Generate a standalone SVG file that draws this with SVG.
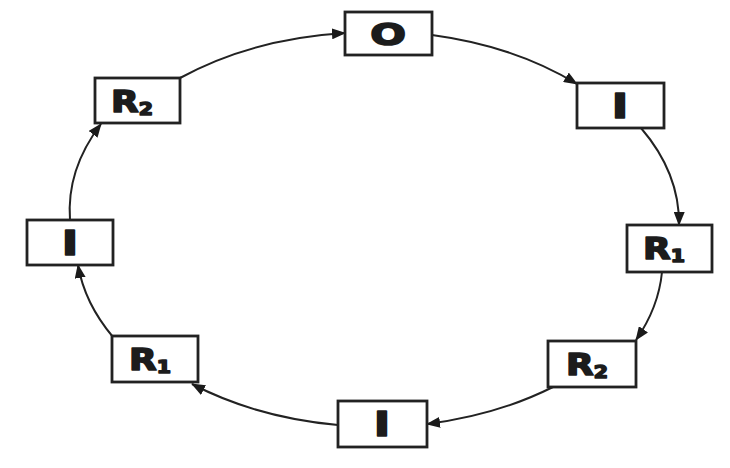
<svg xmlns="http://www.w3.org/2000/svg" width="730" height="468" viewBox="0 0 730 468">
<defs>
<marker id="ah" viewBox="0 0 14 11" refX="13" refY="5.5" markerWidth="14" markerHeight="11" markerUnits="userSpaceOnUse" orient="auto">
<path d="M0,0 L14,5.5 L0,11 Z" fill="#1a1a1a"/>
</marker>
</defs>
<style>
.box{fill:#fff;stroke:#222;stroke-width:2.8}
.lbl{font-family:"DejaVu Sans",sans-serif;font-weight:bold;font-size:30px;fill:#1c1c1c;stroke:#1c1c1c;stroke-width:1.6;stroke-linejoin:round}
.big{font-size:34px}
.sub{font-size:17px}
.c{fill:none;stroke:#222;stroke-width:2;marker-end:url(#ah)}
</style>
<rect width="730" height="468" fill="#fff"/>
<g id="connectors">
<path class="c" d="M432,35 A300,195 0 0 1 577,84"/>
<path class="c" d="M641,128 A300,195 0 0 1 679,225"/>
<path class="c" d="M662,272 A300,195 0 0 1 636,340"/>
<path class="c" d="M553,387 A300,195 0 0 1 427,424"/>
<path class="c" d="M338,425 A300,195 0 0 1 192,384"/>
<path class="c" d="M113,337 A300,195 0 0 1 78,265"/>
<path class="c" d="M70,220 A300,195 0 0 1 101,124"/>
<path class="c" d="M180,78 A300,195 0 0 1 345,33"/>
</g>
<g id="n_O"><rect class="box" x="345" y="12" width="87" height="43"/><text class="lbl" transform="translate(388,45) scale(1.4,1)" text-anchor="middle">O</text></g>
<g id="n_I1"><rect class="box" x="577" y="83" width="87" height="45"/><text class="lbl big" transform="translate(620,118) scale(1.3,1)" text-anchor="middle">I</text></g>
<g id="n_R1a"><rect class="box" x="627" y="225" width="85" height="47"/><text class="lbl" transform="translate(664,259) scale(1.2,1)" text-anchor="middle">R<tspan class="sub" dy="3">1</tspan></text></g>
<g id="n_R2a"><rect class="box" x="548" y="341" width="88" height="46"/><text class="lbl" transform="translate(587,375) scale(1.2,1)" text-anchor="middle">R<tspan class="sub" dy="3">2</tspan></text></g>
<g id="n_I2"><rect class="box" x="338" y="401" width="89" height="46"/><text class="lbl big" transform="translate(382,436) scale(1.3,1)" text-anchor="middle">I</text></g>
<g id="n_R1b"><rect class="box" x="112" y="336" width="86" height="46"/><text class="lbl" transform="translate(150,370) scale(1.2,1)" text-anchor="middle">R<tspan class="sub" dy="3">1</tspan></text></g>
<g id="n_I3"><rect class="box" x="27" y="220" width="86" height="45"/><text class="lbl big" transform="translate(70,255) scale(1.3,1)" text-anchor="middle">I</text></g>
<g id="n_R2b"><rect class="box" x="95" y="78" width="85" height="45"/><text class="lbl" transform="translate(132,112) scale(1.2,1)" text-anchor="middle">R<tspan class="sub" dy="3">2</tspan></text></g>
</svg>
